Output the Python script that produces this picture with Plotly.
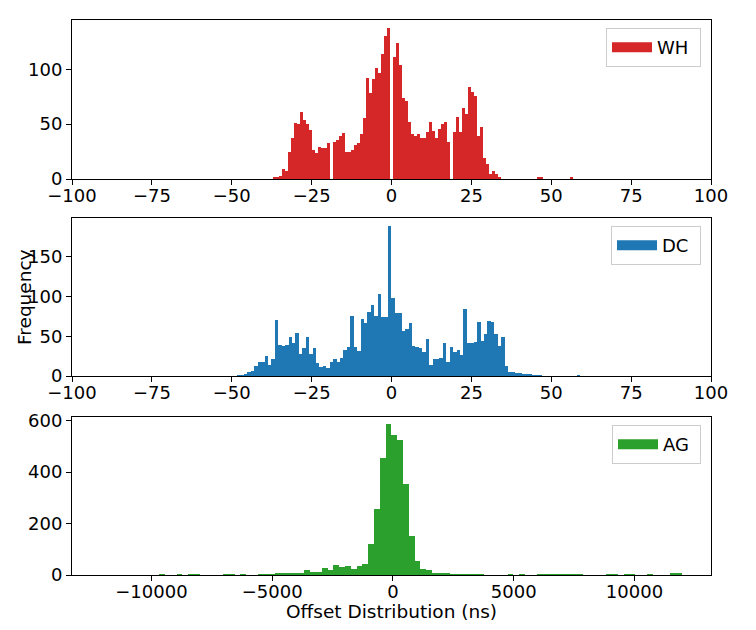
import numpy as np
import plotly.graph_objects as go

# ---------------- data (histogram counts, 100 bins each) ----------------
WH_START, WH_WIDTH = -37.2, 0.941
WH_COUNTS = [1, 2, 3, 9, 7, 25, 37, 51, 50, 61,
             54, 50, 45, 26, 24, 29, 28, 28, 33, 0,
             34, 36, 39, 42, 25, 25, 26, 31, 33, 41,
             56, 92, 78, 91, 101, 97, 114, 130, 138, 0,
             111, 124, 104, 74, 71, 52, 41, 39, 41, 37,
             37, 43, 52, 44, 37, 46, 50, 52, 34, 0,
             43, 57, 43, 65, 59, 84, 79, 76, 39, 47,
             19, 14, 5, 7, 5, 1, 0, 0, 0, 0,
             0, 0, 0, 0, 0, 0, 0, 0, 1, 1,
             0, 0, 0, 0, 0, 0, 0, 0, 0, 1]

DC_START, DC_WIDTH = -48.3, 1.073
DC_COUNTS = [1, 1, 3, 5, 6, 12, 17, 17, 25, 14,
             21, 70, 39, 38, 39, 49, 42, 54, 28, 35,
             49, 28, 35, 16, 11, 12, 10, 17, 21, 18,
             22, 33, 36, 76, 36, 31, 71, 67, 81, 89,
             75, 103, 74, 74, 189, 98, 79, 79, 56, 59,
             66, 38, 37, 35, 30, 46, 14, 21, 21, 22,
             42, 18, 36, 30, 33, 27, 84, 41, 42, 43,
             68, 44, 53, 69, 68, 53, 38, 49, 12, 5,
             5, 4, 4, 3, 3, 2, 1, 1, 1, 0,
             0, 0, 0, 0, 0, 0, 0, 0, 0, 1]

AG_START, AG_WIDTH = -12087.0, 240.5
AG_COUNTS = [0, 0, 0, 0, 0, 0, 0, 0, 0, 0,
             2, 0, 0, 2, 0, 3, 3, 0, 0, 0,
             0, 2, 1, 0, 2, 0, 0, 2, 3, 3,
             4, 5, 6, 6, 9, 19, 10, 13, 26, 19,
             37, 30, 34, 25, 34, 43, 119, 257, 456, 585,
             546, 525, 355, 152, 54, 24, 19, 9, 6, 6,
             3, 2, 2, 1, 2, 1, 0, 0, 0, 0,
             2, 0, 1, 0, 0, 2, 2, 1, 2, 2,
             2, 2, 1, 0, 0, 0, 0, 2, 2, 0,
             1, 2, 0, 0, 1, 0, 0, 0, 4, 6]

SERIES = [("WH", WH_START, WH_WIDTH, WH_COUNTS, "#d62728"),
          ("DC", DC_START, DC_WIDTH, DC_COUNTS, "#1f77b4"),
          ("AG", AG_START, AG_WIDTH, AG_COUNTS, "#2ca02c")]

FONT = "DejaVu Sans"
W, H = 756, 630
ML, MR, MT, MB = 72, 45, 20, 55
PH = H - MT - MB

# panel pixel extents (top, bottom)
panels = [(20, 179), (218, 376), (417, 575)]
domains = [[(575 - b) / PH, (575 - t) / PH] for t, b in panels]

fig = go.Figure()
legend_names = ["legend", "legend2", "legend3"]
for i, (name, start, width, counts, color) in enumerate(SERIES):
    counts = np.array(counts)
    centers = start + width * (np.arange(len(counts)) + 0.5)
    ax = "" if i == 0 else str(i + 1)
    fig.add_trace(go.Bar(x=centers, y=counts, width=width,
                         marker=dict(color=color, line=dict(width=0)),
                         showlegend=False, xaxis="x" + ax, yaxis="y" + ax,
                         name=name))
    fig.add_trace(go.Scatter(x=[None], y=[None], mode="lines",
                             line=dict(color=color, width=13),
                             name=name + " ", legend=legend_names[i],
                             xaxis="x" + ax, yaxis="y" + ax))

axis_common = dict(showline=True, linecolor="black", linewidth=1, mirror=True,
                   ticks="outside", ticklen=5, tickwidth=1, tickcolor="black",
                   showgrid=False, zeroline=False,
                   tickfont=dict(family=FONT, size=18, color="black"))

ymax = [145, 198.5, 614]
yticks = [[0, 50, 100], [0, 50, 100, 150], [0, 200, 400, 600]]
xranges = [[-100, 100], [-100, 100], [-13290, 13170]]
xticks = [list(range(-100, 101, 25)), list(range(-100, 101, 25)),
          [-10000, -5000, 0, 5000, 10000]]

layout = dict(width=W, height=H, margin=dict(l=ML, r=MR, t=MT, b=MB),
              plot_bgcolor="white", paper_bgcolor="white", bargap=0,
              font=dict(family=FONT, color="black"))
for i in range(3):
    ax = "" if i == 0 else str(i + 1)
    layout["xaxis" + ax] = dict(axis_common, domain=[0, 1], anchor="y" + ax,
                                range=xranges[i], tickmode="array",
                                tickvals=xticks[i], tickformat="d",
                                ticklabelstandoff=-5)
    layout["yaxis" + ax] = dict(axis_common, domain=domains[i], anchor="x" + ax,
                                range=[0, ymax[i]], tickmode="array",
                                tickvals=yticks[i])
    layout[legend_names[i]] = dict(
        x=1 - 10 / 639, xanchor="right",
        y=domains[i][1] - 8 / PH, yanchor="top",
        font=dict(family=FONT, size=18, color="black"),
        bgcolor="rgba(255,255,255,0.8)", bordercolor="#cccccc", borderwidth=1,
        itemwidth=40)

fig.update_layout(**layout)

fig.add_annotation(text="Frequency", xref="paper", yref="paper",
                   x=(24 - ML) / 639, xanchor="center",
                   y=(domains[1][0] + domains[1][1]) / 2, yanchor="middle",
                   textangle=-90, showarrow=False,
                   font=dict(family=FONT, size=18.5, color="black"))
fig.add_annotation(text="Offset Distribution (ns)", xref="paper", yref="paper",
                   x=0.5, xanchor="center", y=(575 - 611) / PH, yanchor="middle",
                   showarrow=False,
                   font=dict(family=FONT, size=18.5, color="black"))

fig.write_html("out.html", config={"displayModeBar": False},
               post_script="document.body.style.margin='0px';")
